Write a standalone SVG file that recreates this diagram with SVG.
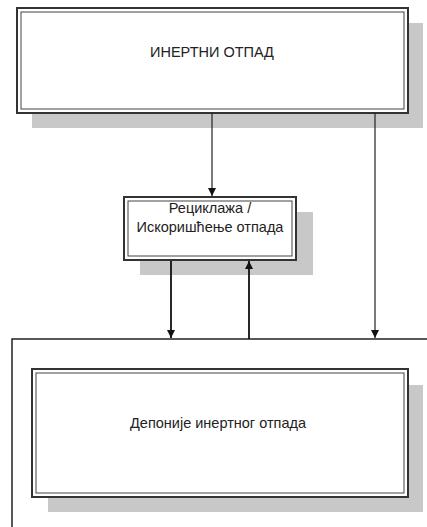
<svg xmlns="http://www.w3.org/2000/svg" width="427" height="527" viewBox="0 0 427 527">
<defs>
<marker id="ah" viewBox="0 0 10 10" refX="10" refY="5" markerWidth="8" markerHeight="8" markerUnits="userSpaceOnUse" orient="auto">
<path d="M0,0 L10,5 L0,10 z" fill="#111"/>
</marker>
<style>
.shadow{fill:#c8c8c8;stroke:none}
.outer{fill:#fff;stroke:#333;stroke-width:2}
.inner{fill:none;stroke:#444;stroke-width:1}
.lbl{font-family:"Liberation Sans",Arial,sans-serif;font-size:14.5px;fill:#222;text-anchor:middle}
.con{fill:none;stroke:#222;stroke-width:1.2}
.con2{fill:none;stroke:#111;stroke-width:1.8}
</style>
</defs>
<rect width="427" height="527" fill="#fff"/>
<g id="inert-waste">
<rect class="shadow" x="32" y="23" width="391" height="105"/>
<rect class="outer" x="17" y="8" width="391" height="105"/>
<rect class="inner" x="21" y="12" width="383" height="97"/>
<text class="lbl" x="212" y="57">ИНЕРТНИ ОТПАД</text>
</g>
<g id="recycling">
<rect class="shadow" x="140" y="212" width="173" height="63"/>
<rect class="outer" x="124" y="197" width="172" height="63" stroke-width="3" stroke="#555"/>
<rect class="inner" x="128" y="201" width="164" height="55"/>
<text class="lbl" x="210" y="213">Рециклажа /</text>
<text class="lbl" x="210" y="232">Искоришћење отпада</text>
</g>
<g id="landfill-frame">
<path d="M12,527 V339 H427" fill="none" stroke="#222" stroke-width="1.5"/>
</g>
<g id="landfill">
<rect class="shadow" x="48" y="385" width="375" height="127"/>
<rect class="outer" x="32" y="369" width="376" height="128"/>
<rect class="inner" x="36" y="373" width="368" height="120"/>
<text class="lbl" x="218" y="428">Депоније инертног отпада</text>
</g>
<g id="connectors">
<line class="con" x1="212" y1="113" x2="212" y2="196" marker-end="url(#ah)"/>
<line class="con" x1="375" y1="113" x2="375" y2="338" marker-end="url(#ah)"/>
<line class="con2" x1="171" y1="261" x2="171" y2="338" marker-end="url(#ah)"/>
<line class="con2" x1="249" y1="339" x2="249" y2="261" marker-end="url(#ah)"/>
</g>
</svg>
